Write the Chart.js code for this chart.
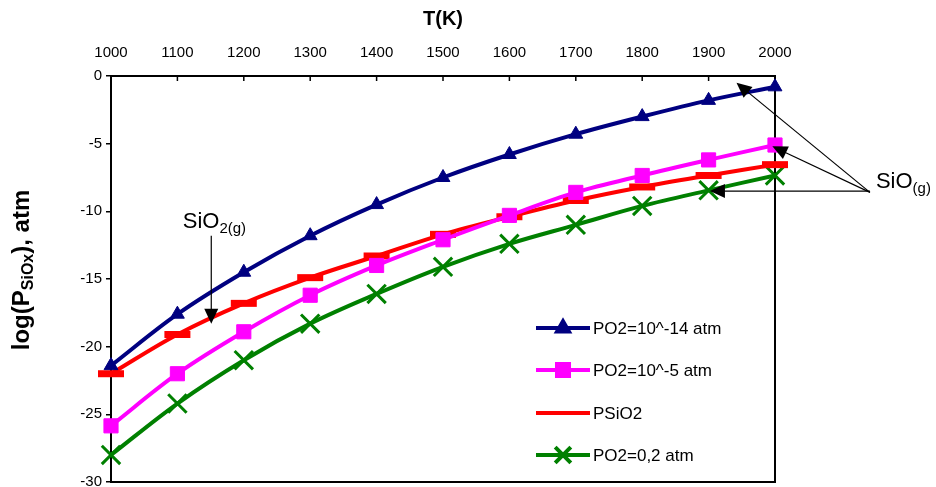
<!DOCTYPE html>
<html>
<head>
<meta charset="utf-8">
<script src="https://cdn.jsdelivr.net/npm/chart.js@4.4.1/dist/chart.umd.min.js"></script>
<style>
  html, body { margin: 0; background: #fff; overflow: hidden; }
  #wrap { width: 936px; height: 502px; position: relative; }
</style>
</head>
<body>
<div id="wrap"><canvas id="chart"></canvas></div>
<script>
// ===== Data =====
const temps = [1000, 1100, 1200, 1300, 1400, 1500, 1600, 1700, 1800, 1900, 2000];
const po2Low = [-21.4, -17.6, -14.5, -11.8, -9.5, -7.5, -5.8, -4.3, -3.0, -1.8, -0.8];
const po2Mid = [-25.85, -22.0, -18.9, -16.2, -14.0, -12.1, -10.3, -8.6, -7.35, -6.2, -5.1];
const pSiO2 = [-22.0, -19.1, -16.8, -14.9, -13.3, -11.7, -10.4, -9.2, -8.2, -7.35, -6.55];
const po2Air = [-28.0, -24.2, -21.0, -18.3, -16.1, -14.1, -12.4, -11.0, -9.6, -8.45, -7.35];
const seriesNames = ['PO2=10^-14 atm', 'PO2=10^-5 atm', 'PSiO2', 'PO2=0,2 atm'];
const xTicks = [1000, 1100, 1200, 1300, 1400, 1500, 1600, 1700, 1800, 1900, 2000];
const yTicks = [0, -5, -10, -15, -20, -25, -30];

const FONT = '"Liberation Sans", Arial, sans-serif';

function pts(vals) {
  return temps.map((t, i) => ({ x: t, y: vals[i] }));
}

function ds(label, vals, color, style, radius, pbw) {
  return {
    label: label,
    data: pts(vals),
    borderColor: color,
    backgroundColor: color,
    borderWidth: 4,
    tension: 0.35,
    pointStyle: style,
    pointRadius: radius,
    pointHoverRadius: radius,
    pointBackgroundColor: color,
    pointBorderColor: color,
    pointBorderWidth: pbw,
    clip: false
  };
}

// ===== Frame, inner ticks, titles, legend, arrows =====
function arrow(ctx, x1, y1, x2, y2) {
  const a = Math.atan2(y2 - y1, x2 - x1);
  const hl = 15, hw = 7;
  ctx.beginPath();
  ctx.moveTo(x1, y1);
  ctx.lineTo(x2 - Math.cos(a) * hl * 0.8, y2 - Math.sin(a) * hl * 0.8);
  ctx.stroke();
  ctx.beginPath();
  ctx.moveTo(x2, y2);
  ctx.lineTo(x2 - Math.cos(a) * hl + Math.sin(a) * hw, y2 - Math.sin(a) * hl - Math.cos(a) * hw);
  ctx.lineTo(x2 - Math.cos(a) * hl - Math.sin(a) * hw, y2 - Math.sin(a) * hl + Math.cos(a) * hw);
  ctx.closePath();
  ctx.fill();
}

const decor = {
  id: 'decor',
  beforeDatasetsDraw(chart) {
    const { ctx, chartArea: a, scales } = chart;
    ctx.save();
    ctx.strokeStyle = '#000';
    ctx.lineWidth = 2;
    ctx.strokeRect(a.left, a.top, a.right - a.left, a.bottom - a.top);
    // tick marks on top axis point down into the plot
    ctx.lineWidth = 1.5;
    xTicks.forEach(t => {
      const x = scales.x.getPixelForValue(t);
      ctx.beginPath();
      ctx.moveTo(x, a.top);
      ctx.lineTo(x, a.top + 5);
      ctx.stroke();
    });
    ctx.restore();
  },
  afterDatasetsDraw(chart) {
    const { ctx, chartArea: a, scales } = chart;
    const sx = v => scales.x.getPixelForValue(v);
    const sy = v => scales.y.getPixelForValue(v);
    ctx.save();

    // x title
    ctx.fillStyle = '#000';
    ctx.font = 'bold 20px ' + FONT;
    ctx.textAlign = 'center';
    ctx.textBaseline = 'middle';
    ctx.fillText('T(K)', (a.left + a.right) / 2, 19);

    // y title with subscript
    ctx.save();
    ctx.translate(21, 270);
    ctx.rotate(-Math.PI / 2);
    const p1 = 'log(P', sub = 'SiOx', p2 = '), atm';
    ctx.font = 'bold 24px ' + FONT;
    const w1 = ctx.measureText(p1).width, w3 = ctx.measureText(p2).width;
    ctx.font = 'bold 16px ' + FONT;
    const w2 = ctx.measureText(sub).width;
    let x0 = -(w1 + w2 + w3) / 2;
    ctx.textAlign = 'left';
    ctx.textBaseline = 'alphabetic';
    ctx.font = 'bold 24px ' + FONT;
    ctx.fillText(p1, x0, 8);
    ctx.font = 'bold 16px ' + FONT;
    ctx.fillText(sub, x0 + w1, 12);
    ctx.font = 'bold 24px ' + FONT;
    ctx.fillText(p2, x0 + w1 + w2, 8);
    ctx.restore();

    // legend
    const rows = [328, 370, 413, 455];
    chart.data.datasets.forEach((d, i) => {
      const y = rows[i];
      ctx.strokeStyle = d.borderColor;
      ctx.lineWidth = 4;
      ctx.beginPath();
      ctx.moveTo(536, y);
      ctx.lineTo(590, y);
      ctx.stroke();
      if (d.pointStyle !== 'line') {
        ctx.fillStyle = d.borderColor;
        ctx.strokeStyle = d.borderColor;
        Chart.helpers.drawPoint(ctx, {
          pointStyle: d.pointStyle, radius: d.pointRadius * 0.85,
          rotation: 0, borderWidth: d.pointBorderWidth
        }, 563, y);
      }
      ctx.fillStyle = '#000';
      ctx.font = '17px ' + FONT;
      ctx.textAlign = 'left';
      ctx.textBaseline = 'middle';
      ctx.fillText(seriesNames[i], 593, y + 1);
    });

    // annotations
    ctx.strokeStyle = '#000';
    ctx.fillStyle = '#000';
    ctx.lineWidth = 1.2;
    arrow(ctx, sx(1151), sy(-11.8), sx(1151), sy(-18.3));
    arrow(ctx, sx(2143), sy(-8.6), sx(1942), sy(-0.5));
    arrow(ctx, sx(2143), sy(-8.6), sx(1996), sy(-5.2));
    arrow(ctx, sx(2143), sy(-8.5), sx(1902), sy(-8.5));

    ctx.textAlign = 'left';
    ctx.textBaseline = 'alphabetic';
    ctx.font = '22px ' + FONT;
    ctx.fillText('SiO', sx(1108), sy(-11.2));
    let w = ctx.measureText('SiO').width;
    ctx.font = '15px ' + FONT;
    ctx.fillText('2(g)', sx(1108) + w, sy(-11.2) + 5);

    ctx.font = '22px ' + FONT;
    ctx.fillText('SiO', sx(2152), sy(-8.3));
    w = ctx.measureText('SiO').width;
    ctx.font = '15px ' + FONT;
    ctx.fillText('(g)', sx(2152) + w, sy(-8.3) + 5);

    ctx.restore();
  }
};

// ===== Chart =====
new Chart(document.getElementById('chart'), {
  type: 'line',
  data: {
    datasets: [
      ds(seriesNames[0], po2Low, '#000080', 'triangle', 8, 1),
      ds(seriesNames[1], po2Mid, '#ff00ff', 'rect', 10, 1),
      ds(seriesNames[2], pSiO2, '#ff0000', 'line', 13, 7),
      ds(seriesNames[3], po2Air, '#008000', 'crossRot', 13, 3)
    ]
  },
  options: {
    responsive: true,
    maintainAspectRatio: false,
    animation: false,
    layout: { padding: { left: 0, top: 0, right: 161, bottom: 6 } },
    plugins: {
      legend: { display: false },
      tooltip: { enabled: false }
    },
    scales: {
      x: {
        type: 'linear',
        position: 'top',
        min: 1000,
        max: 2000,
        afterBuildTicks: s => { s.ticks = xTicks.map(v => ({ value: v })); },
        afterFit: s => { s.height = 76; },
        ticks: {
          color: '#000', font: { family: FONT, size: 15 }, padding: 14, maxRotation: 0,
          callback: v => String(v)
        },
        grid: { display: false, drawTicks: false },
        border: { display: false }
      },
      y: {
        type: 'linear',
        min: -30,
        max: 0,
        afterBuildTicks: s => { s.ticks = yTicks.map(v => ({ value: v })); },
        afterFit: s => { s.width = 111; },
        ticks: { color: '#000', font: { family: FONT, size: 15 }, padding: 4, callback: v => String(v) },
        grid: { drawOnChartArea: false, drawTicks: true, tickLength: 5, color: '#000', lineWidth: 1.5 },
        border: { display: false }
      }
    }
  },
  plugins: [decor]
});
</script>
</body>
</html>
